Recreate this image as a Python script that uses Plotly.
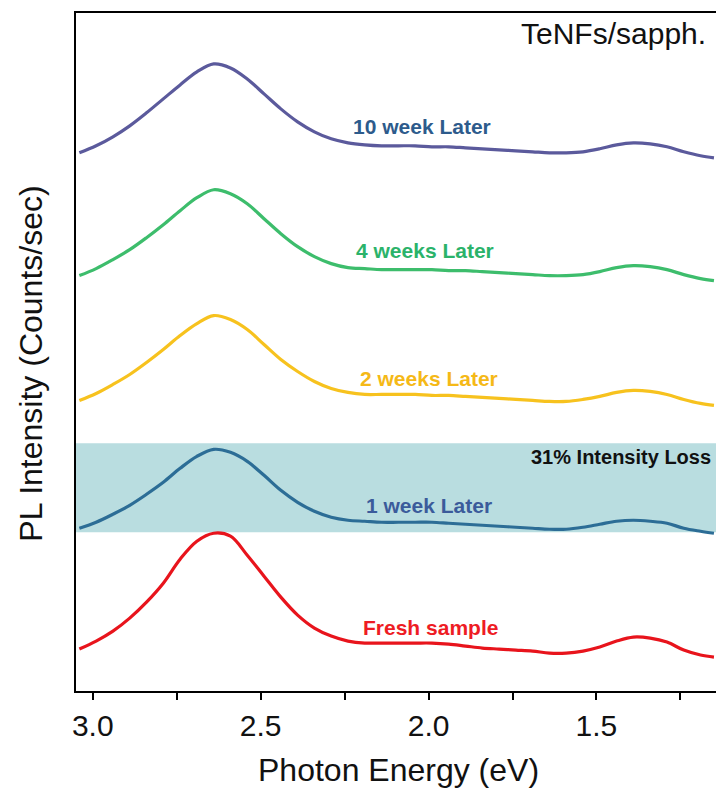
import plotly.graph_objects as go

# Photon energy grid (eV)
energy = [3.04, 2.99, 2.94, 2.89, 2.84, 2.79, 2.74, 2.69, 2.64, 2.59,
          2.54, 2.49, 2.44, 2.39, 2.34, 2.29, 2.24, 2.19, 2.14, 2.09,
          2.04, 1.99, 1.94, 1.89, 1.84, 1.79, 1.74, 1.69, 1.64, 1.59,
          1.54, 1.49, 1.44, 1.39, 1.34, 1.29, 1.24, 1.19, 1.15]

# PL intensity (vertically offset, arbitrary units)
week10 = [539, 546, 555, 566, 579, 593, 607, 620, 628,
          624, 613, 598, 583, 570, 560, 553, 549, 547,
          546, 546, 546, 545, 545, 544, 543, 542, 541, 540, 539, 539,
          540, 543, 547, 549, 548, 545, 540, 536, 534]
week4 = [416, 423, 432, 442, 454, 467, 481, 494, 502,
         498, 488, 473, 458, 445, 435, 428, 424, 423,
         422, 422, 422, 422, 421, 421, 420, 419, 418, 417, 416, 416,
         417, 420, 424, 426, 425, 422, 417, 413, 411]
week2 = [291, 298, 307, 317, 329, 342, 356, 368, 376,
         372, 362, 347, 332, 320, 310, 303, 299, 297,
         297, 297, 297, 296, 296, 295, 294, 293, 292, 291, 290, 290,
         292, 295, 299, 301, 300, 297, 292, 288, 286]
week1 = [163, 169, 177, 186, 197, 209, 223, 235, 242,
         239, 230, 216, 201, 189, 180, 174, 171, 170,
         169, 169, 169, 169, 168, 167, 166, 165, 164, 163, 162, 162,
         164, 167, 170, 171, 170, 168, 163, 160, 158]
fresh = [42, 50, 60, 73, 89, 108, 132, 150, 158,
         155, 136, 115, 94, 76, 63, 55, 50, 48,
         48, 48, 48, 48, 47, 45, 43, 42, 41, 40, 38, 38,
         40, 44, 50, 54, 53, 49, 41, 36, 34]

series_names = ["10 week Later", "4 weeks Later", "2 weeks Later", "1 week Later", "Fresh sample"]
series_vals = [week10, week4, week2, week1, fresh]
line_colors = ["#5b5a9c", "#3dbd6c", "#f7c21e", "#2c6d96", "#e8141c"]
label_colors = ["#2d5b8c", "#2bb36a", "#f5b917", "#3b5b9b", "#ee1c24"]
label_x = [2.02, 2.01, 2.0, 2.0, 1.995]
label_y = [565, 441, 313, 186, 64]

band_low, band_high = 159, 248

fig = go.Figure()
for name, vals, c in zip(series_names, series_vals, line_colors):
    fig.add_trace(go.Scatter(x=energy, y=vals, mode="lines", name=name,
                             line=dict(color=c, width=3.2, shape="spline", smoothing=1.0),
                             showlegend=False))

fig.add_shape(type="rect", xref="paper", x0=0, x1=1, yref="y", y0=band_low, y1=band_high,
              fillcolor="#b9dde0", line=dict(width=0), layer="below")

font_main = "Liberation Sans, Arial, sans-serif"
annotations = []
for name, lx, ly, lc in zip(series_names, label_x, label_y, label_colors):
    annotations.append(dict(x=lx, y=ly, xref="x", yref="y", text="<b>%s</b>" % name,
                            showarrow=False, font=dict(size=21, color=lc, family=font_main),
                            xanchor="center", yanchor="middle"))
annotations.append(dict(x=1, y=234, xref="paper", yref="y", text="<b>31% Intensity Loss</b>",
                        showarrow=False, xanchor="right", yanchor="middle", xshift=-6,
                        font=dict(size=20, color="#111111", family=font_main)))
annotations.append(dict(x=1, y=0.97, xref="paper", yref="paper", text="TeNFs/sapph.",
                        showarrow=False, xanchor="right", yanchor="middle", xshift=-11,
                        font=dict(size=30, color="#111111", family=font_main)))
annotations.append(dict(x=-0.0713, y=0.483, xref="paper", yref="paper",
                        text="PL Intensity (Counts/sec)", textangle=-90, showarrow=False,
                        xanchor="center", yanchor="middle",
                        font=dict(size=32, color="#111111", family=font_main)))
annotations.append(dict(x=0.502, y=-0.116, xref="paper", yref="paper",
                        text="Photon Energy (eV)", showarrow=False,
                        xanchor="center", yanchor="middle",
                        font=dict(size=32, color="#111111", family=font_main)))

fig.update_layout(
    width=716, height=783,
    margin=dict(l=68, r=3, t=4, b=100),
    paper_bgcolor="white", plot_bgcolor="white",
    annotations=annotations,
    xaxis=dict(range=[3.05, 1.135], showgrid=False, zeroline=False,
               showline=True, linecolor="black", linewidth=1.5, mirror=True,
               ticks="outside", ticklen=7, tickwidth=1.5, tickcolor="black",
               tickvals=[3.0, 2.5, 2.0, 1.5], ticktext=["3.0", "2.5", "2.0", "1.5"],
               minor=dict(tickvals=[2.75, 2.25, 1.75, 1.25], ticks="outside",
                          ticklen=7, tickwidth=1.5, tickcolor="black"),
               tickfont=dict(size=30, color="#111111", family=font_main)),
    yaxis=dict(range=[0, 679], showgrid=False, zeroline=False, showticklabels=False,
               showline=True, linecolor="black", linewidth=1.5, mirror=True, ticks=""),
)

fig.write_html("out.html")
